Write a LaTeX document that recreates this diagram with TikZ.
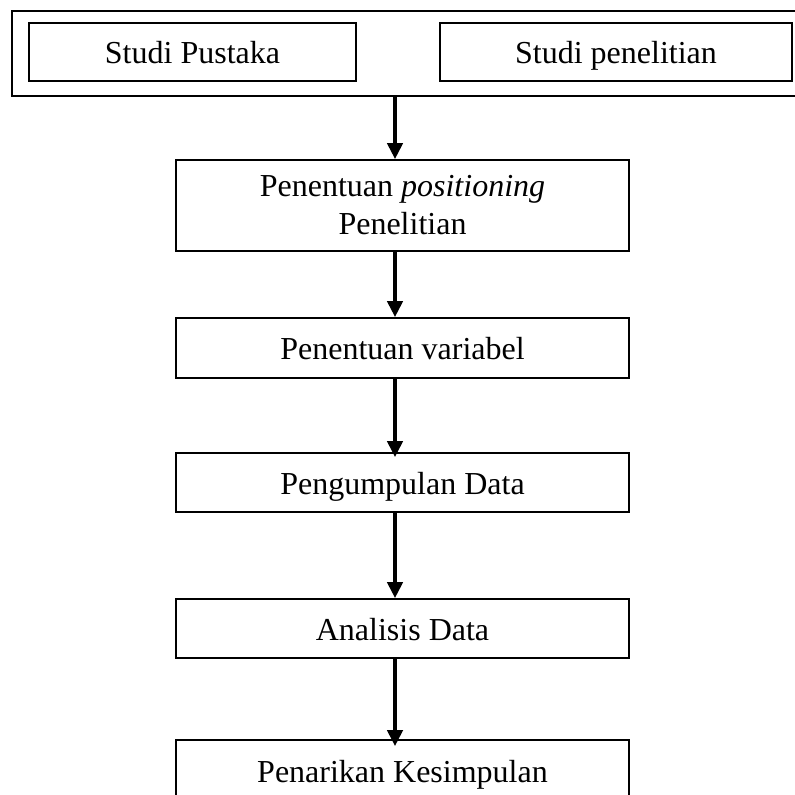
\documentclass[tikz,border=0pt]{standalone}
\usepackage{fontspec}
\setmainfont{Liberation Serif}
\usetikzlibrary{arrows.meta}

\tikzset{
  box/.style={draw, line width=0.8pt, inner sep=0pt, minimum width=226.5pt,
    font=\fontsize{16}{19}\selectfont, align=center},
  line/.style={text height=13pt, text depth=1pt},
  flow/.style={line width=2pt, -{Triangle[width=7.5pt,length=8pt]}}
}

\begin{document}
\begin{tikzpicture}[x=0.5pt,y=-0.5pt]
    \useasboundingbox (0,0) rectangle (794,795);
    % frame round the two studies
    \node [box, line width=1pt, minimum width=404pt, minimum height=42.5pt] (kajian) at (416,53.5) {};
    \node [box, line, minimum width=163.5pt, minimum height=29pt] (pustaka) at (192.5,52) {Studi Pustaka};
    \node [box, line, minimum width=176pt, minimum height=29pt] (studi) at (616,52) {Studi penelitian};
    % steps
    \node [box, minimum height=45.5pt] (posisi) at (402.5,205.5) {Penentuan \textit{positioning}\\Penelitian};
    \node [box, line, minimum height=30pt] (variabel) at (402.5,348) {Penentuan variabel};
    \node [box, line, minimum height=29.5pt] (data) at (402.5,482.5) {Pengumpulan Data};
    \node [box, line, minimum height=29.5pt] (analisis) at (402.5,628.5) {Analisis Data};
    \node [box, line, minimum height=30pt] (simpulan) at (402.5,770) {Penarikan Kesimpulan};
    \coordinate (sumbu) at (395,0);
    \draw [flow] (kajian.south -| sumbu) -- (posisi.north -| sumbu);
    \draw [flow] (posisi.south -| sumbu) -- (variabel.north -| sumbu);
    \draw [flow, shorten >=-2.5pt] (variabel.south -| sumbu) -- (data.north -| sumbu);
    \draw [flow] (data.south -| sumbu) -- (analisis.north -| sumbu);
    \draw [flow, shorten >=-3.5pt] (analisis.south -| sumbu) -- (simpulan.north -| sumbu);
\end{tikzpicture}
\end{document}
